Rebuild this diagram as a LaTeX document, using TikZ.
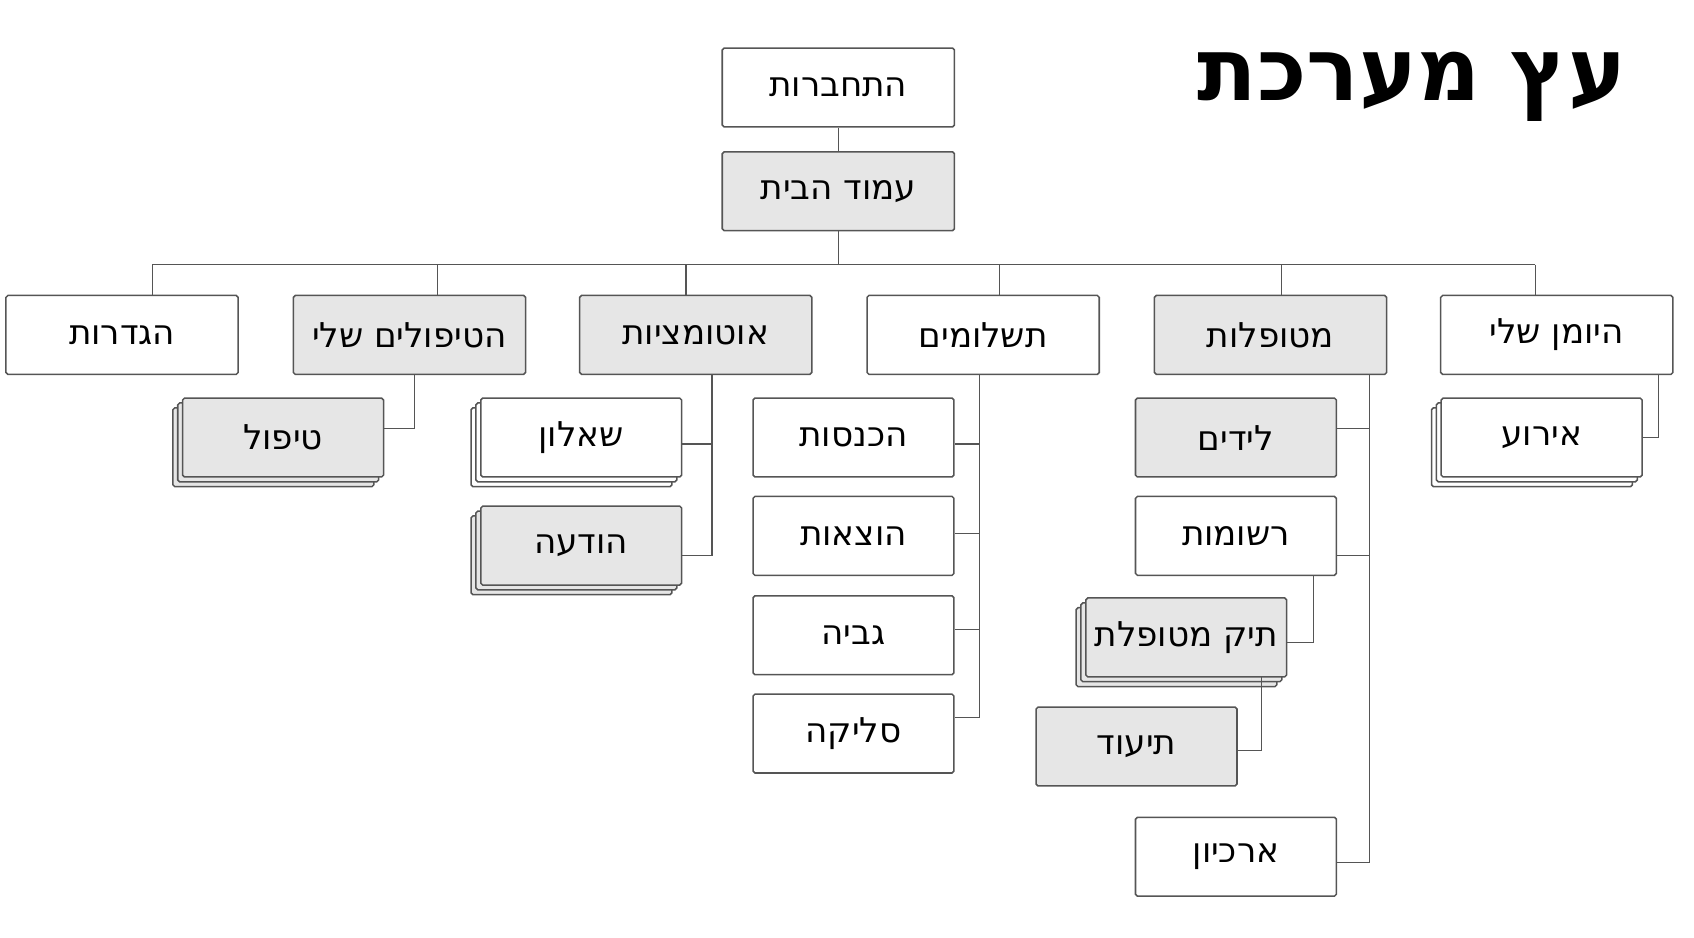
\documentclass[tikz,border=0pt]{standalone}
\usepackage{fontspec}
\usepackage{xcolor}
\usetikzlibrary{shadows}
\newfontfamily\heb[Script=Hebrew]{DejaVu Sans}
\TeXXeTstate=1
\newcommand{\he}[1]{{\heb\beginR #1\endR}}
\definecolor{boxgray}{HTML}{E6E6E6}
\definecolor{edge}{HTML}{555555}
\begin{document}
\begin{tikzpicture}[x=0.02cm,y=-0.02cm,
  box/.style={draw=edge,line width=0.8pt,rounded corners=1pt,fill=white,
    minimum width=4.3cm,minimum height=1.46cm,font=\fontsize{18}{22}\selectfont},
  kid/.style={box,minimum width=3.72cm},
  grey/.style={fill=boxgray},
  stack/.style={double copy shadow={shadow xshift=-0.09cm,shadow yshift=-0.09cm,draw=edge,line width=0.8pt}},
  wire/.style={draw=edge,line width=0.6pt}]
\useasboundingbox (0,0) rectangle (1568,868);
\node[font=\heb\bfseries\fontsize{46}{50}\selectfont,anchor=east] (title) at (1512,80){\he{עץ מערכת}};
% top
\node[box] (login) at (776,81){\he{התחברות}};
\node[box,grey] (home) at (776,177){\he{עמוד הבית}};
% first level
\node[box] (settings) at (113,310){\he{הגדרות}};
\node[box,grey] (mytreat) at (379,310){\he{הטיפולים שלי}};
\node[box,grey] (auto) at (644,310){\he{אוטומציות}};
\node[box] (pay) at (910,310){\he{תשלומים}};
\node[box,grey] (clients) at (1176,310){\he{מטופלות}};
\node[box] (diary) at (1441,310){\he{היומן שלי}};
% children
\node[kid,grey,stack] (treat) at (262,405){\he{טיפול}};
\node[kid,stack] (quest) at (538,405){\he{שאלון}};
\node[kid,grey,stack] (msg) at (538,505){\he{הודעה}};
\node[kid] (income) at (790,405){\he{הכנסות}};
\node[kid] (expense) at (790,496){\he{הוצאות}};
\node[kid] (collect) at (790,588){\he{גביה}};
\node[kid] (clear) at (790,679){\he{סליקה}};
\node[kid,grey] (leads) at (1144,405){\he{לידים}};
\node[kid] (records) at (1144,496){\he{רשומות}};
\node[kid,grey,stack] (file) at (1098,590){\he{תיק מטופלת}};
\node[kid,grey] (docs) at (1052,691){\he{תיעוד}};
\node[kid] (archive) at (1144,793){\he{ארכיון}};
\node[kid,stack] (event) at (1427,405){\he{אירוע}};
% connectors
\coordinate (bus) at (776,245);
\draw[wire] (login) -- (home);
\draw[wire] (home) -- (bus);
\draw[wire] (141,245) -- (1421,245);
\foreach \x/\n in {141/settings,405/mytreat,635/auto,925/pay,1186/clients,1421/diary}
  \draw[wire] (\x,245) -- (\x,273);
\draw[wire] (384,347) |- (treat.east|-0,397);
\foreach \n/\y in {quest/411,msg/514}
  \draw[wire] (659,347) |- (\n.east|-0,\y);
\foreach \n/\y in {income/411,expense/494,collect/583,clear/664}
  \draw[wire] (907,347) |- (\n.east|-0,\y);
\foreach \n/\y in {leads/397,records/514,archive/798}
  \draw[wire] (1268,347) |- (\n.east|-0,\y);
\draw[wire] (1216,533) |- (file.east|-0,595);
\draw[wire] (1168,627) |- (docs.east|-0,695);
\draw[wire] (1535,347) |- (event.east|-0,405);
\end{tikzpicture}
\end{document}
